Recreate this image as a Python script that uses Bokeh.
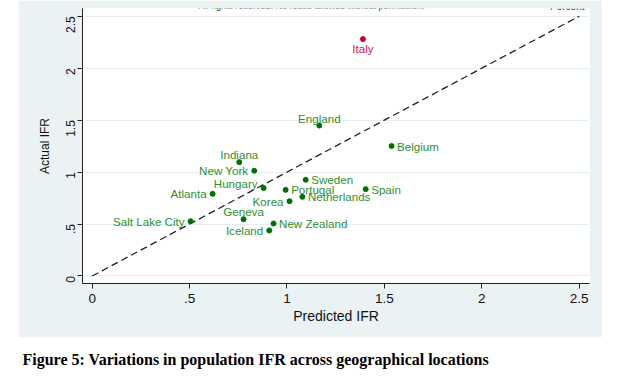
from bokeh.plotting import figure
from bokeh.models import Range1d, FixedTicker, Label, Spacer
from bokeh.layouts import row, column
from bokeh.embed import file_html
from bokeh.resources import INLINE
from bokeh.core.properties import value

# ---------------- data ----------------
locations = ["Italy", "England", "Belgium", "Indiana", "New York", "Hungary",
             "Atlanta", "Sweden", "Portugal", "Netherlands", "Korea", "Spain",
             "Geneva", "Salt Lake City", "New Zealand", "Iceland"]
predicted_ifr = [1.39, 1.166, 1.537, 0.755, 0.832, 0.880, 0.618, 1.096, 0.993,
                 1.079, 1.013, 1.404, 0.777, 0.505, 0.931, 0.909]
actual_ifr = [2.28, 1.448, 1.251, 1.096, 1.013, 0.846, 0.791, 0.926, 0.829,
              0.762, 0.720, 0.836, 0.547, 0.527, 0.505, 0.438]
diagonal = [0, 2.5]
tick_values = [0, 0.5, 1, 1.5, 2, 2.5]
tick_labels = ["0", ".5", "1", "1.5", "2", "2.5"]
highlight = "Italy"

# ---------------- styles ----------------
PANEL = "#eaf2f3"
GREEN_DOT = "#007000"
GREEN_TXT = "#2f8f2f"
RED_DOT = "#cc0033"
RED_TXT = "#cc2244"
FONT = "Liberation Sans"

# Stata-like clock positions for the marker labels
label_clock = {"Italy": 6, "England": 12, "Belgium": 3, "Indiana": 12,
               "New York": 9, "Hungary": 10, "Atlanta": 9, "Sweden": 3,
               "Portugal": 3, "Netherlands": 3, "Korea": 9, "Spain": 3,
               "Geneva": 12, "Salt Lake City": 9, "New Zealand": 3,
               "Iceland": 9}
clock_style = {
    3: dict(text_align="left", x_offset=5.5, y_offset=0),
    9: dict(text_align="right", x_offset=-6, y_offset=0),
    12: dict(text_align="center", x_offset=0, y_offset=-7.5),
    6: dict(text_align="center", x_offset=0, y_offset=9.5),
    10: dict(text_align="right", x_offset=-6, y_offset=-5),
}

Y_END = 2.5746
p = figure(width=584, height=337,
           x_range=Range1d(-0.0498, 2.553), y_range=Range1d(-0.0722, Y_END),
           output_backend="svg", toolbar_location=None, title=None,
           min_border_left=64, min_border_right=13, min_border_top=8,
           min_border_bottom=54,
           background_fill_color="white", border_fill_color=PANEL,
           outline_line_color=None)

# axes
overrides = {float(v): s for v, s in zip(tick_values, tick_labels)}
for ax in (p.xaxis[0], p.yaxis[0]):
    ax.ticker = FixedTicker(ticks=tick_values)
    ax.major_label_overrides = overrides
    ax.minor_tick_line_color = None
    ax.major_tick_in = 0
    ax.major_tick_out = 5
    ax.axis_line_color = "#222222"
    ax.major_tick_line_color = "#222222"
    ax.major_label_text_color = "#111111"
    ax.major_label_text_font = FONT
    ax.axis_label_text_font = FONT
    ax.axis_label_text_font_style = "normal"
    ax.axis_label_text_color = "#111111"

p.xaxis.axis_label = "Predicted IFR"
p.xaxis.major_label_text_font_size = "13.5px"
p.xaxis.axis_label_text_font_size = "14px"
p.xaxis.major_label_standoff = 5
p.xaxis.axis_label_standoff = 2

p.yaxis.axis_label = "Actual IFR"
p.yaxis.major_label_orientation = 1.5707963
p.yaxis.major_label_text_font_size = "12px"
p.yaxis.axis_label_text_font_size = "12px"
p.yaxis.major_label_standoff = 7
p.yaxis.axis_label_standoff = 7

p.xgrid.visible = False
p.ygrid.ticker = FixedTicker(ticks=tick_values)
p.ygrid.grid_line_color = "#e3eef0"
p.ygrid.grid_line_width = 1

# 45-degree line
p.line(diagonal, diagonal, line_color="#222222", line_width=1.3,
       line_dash="7 4")

# points
for name, x, y in zip(locations, predicted_ifr, actual_ifr):
    is_hi = name == highlight
    p.scatter([x], [y], size=5, marker="circle",
              fill_color=RED_DOT if is_hi else GREEN_DOT,
              line_color=RED_DOT if is_hi else GREEN_DOT)

# labels grouped by clock position
for clock, style in clock_style.items():
    idx = [i for i, n in enumerate(locations) if label_clock[n] == clock]
    if not idx:
        continue
    xs = [predicted_ifr[i] for i in idx]
    ys = [actual_ifr[i] for i in idx]
    ts = [locations[i] for i in idx]
    cols = [RED_TXT if locations[i] == highlight else GREEN_TXT for i in idx]
    p.text(x=xs, y=ys, text=ts, text_color=cols,
           text_font=value(FONT), text_font_size="11.6px",
           text_baseline="middle", **style)

# header texts in the top strip of the panel (frame top is 8px below)
HEAD_Y = Y_END + 8 / 103.9
p.add_layout(Label(x=1.126, y=HEAD_Y, text="All rights reserved. No reuse allowed without permission.",
                   text_align="center", text_baseline="top",
                   text_font=FONT, text_font_size="9px", text_color="#111111"))
p.add_layout(Label(x=2.527, y=HEAD_Y, text="Percent",
                   text_align="right", text_baseline="top",
                   text_font=FONT, text_font_size="10px", text_color="#223355"))

# caption
cap = figure(width=520, height=32, x_range=Range1d(0, 520), y_range=Range1d(0, 32),
             output_backend="svg", toolbar_location=None, title=None,
             min_border=0, x_axis_location=None, y_axis_location=None,
             outline_line_color=None, background_fill_color="white",
             border_fill_color="white")
cap.grid.visible = False
cap.add_layout(Label(x=22, y=10.5,
                     text="Figure 5: Variations in population IFR across geographical locations",
                     text_align="left", text_baseline="middle",
                     text_font="Liberation Serif", text_font_style="bold",
                     text_font_size="16px", text_color="#000000"))

layout = column(row(Spacer(width=18, height=337), p), cap)

open("out.html", "w").write(file_html(layout, INLINE))
